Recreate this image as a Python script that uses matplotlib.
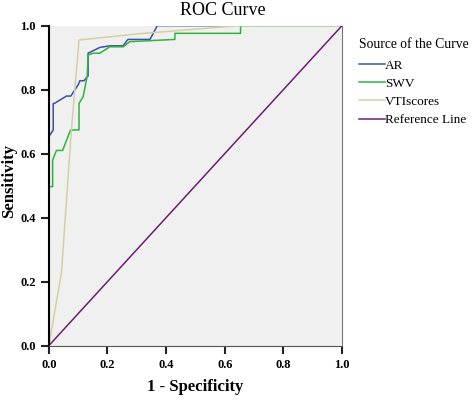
import matplotlib
matplotlib.use("Agg")
import matplotlib.pyplot as plt

plt.rcParams['font.family'] = ['Liberation Serif', 'DejaVu Serif']

# ROC points (1 - specificity, sensitivity)
ar_x = [0.0, 0.0, 0.015, 0.015, 0.019, 0.06, 0.075, 0.10, 0.106, 0.12, 0.134, 0.134,
        0.174, 0.208, 0.253, 0.27, 0.345, 0.37, 0.61]
ar_y = [0.0, 0.653, 0.674, 0.757, 0.757, 0.78, 0.78, 0.815, 0.828, 0.828, 0.843, 0.914,
        0.932, 0.937, 0.937, 0.957, 0.957, 1.0, 1.0]

swv_x = [0.0, 0.0, 0.013, 0.013, 0.026, 0.047, 0.074, 0.103, 0.103, 0.117, 0.131, 0.134,
         0.151, 0.174, 0.208, 0.254, 0.276, 0.43, 0.43, 0.654, 0.654, 1.0]
swv_y = [0.0, 0.497, 0.497, 0.58, 0.61, 0.61, 0.674, 0.674, 0.757, 0.778, 0.843, 0.908,
         0.914, 0.914, 0.934, 0.934, 0.95, 0.957, 0.976, 0.976, 1.0, 1.0]

vti_x = [0.0, 0.043, 0.077, 0.103, 0.31, 0.65, 1.0]
vti_y = [0.0, 0.227, 0.674, 0.955, 0.975, 1.0, 1.0]

ref_x = [0.0, 1.0]
ref_y = [0.0, 1.0]

fig = plt.figure(figsize=(4.74, 4.01), dpi=100)
ax = fig.add_axes([0.103, 0.138, 0.6185, 0.798])
ax.set_facecolor('#f0f0f0')

l1, = ax.plot(ar_x, ar_y, color='#3d50a8', lw=1.1, label='AR')
l2, = ax.plot(swv_x, swv_y, color='#2cb53c', lw=1.1, label='SWV')
l3, = ax.plot(vti_x, vti_y, color='#d6cfa2', lw=1.1, label='VTIscores')
l4, = ax.plot(ref_x, ref_y, color='#6b1e72', lw=1.1, label='Reference Line')

ax.set_xlim(0, 1)
ax.set_ylim(0, 1)
ticks = [0.0, 0.2, 0.4, 0.6, 0.8, 1.0]
ax.set_xticks(ticks)
ax.set_yticks(ticks)
ax.set_xticklabels(['%.1f' % t for t in ticks], fontweight='bold', fontsize=9)
ax.set_yticklabels(['%.1f' % t for t in ticks], fontweight='bold', fontsize=9)
ax.tick_params(direction='out', length=6, width=1.5, color='#222222')

ax.spines['top'].set_visible(False)
ax.spines['right'].set_color('#777777')
ax.spines['left'].set_linewidth(1.5)
ax.spines['bottom'].set_color('#555555')

fig.text(0.47, 1 - 15 / 401, 'ROC Curve', fontsize=13, ha='center', va='baseline')
ax.set_xlabel('1 - Specificity', fontsize=12, fontweight='bold', labelpad=6)
ax.set_ylabel('Sensitivity', fontsize=12, fontweight='bold')
ax.yaxis.set_label_coords(-0.11, 0.515)

leg = fig.legend(handles=[l1, l2, l3, l4], loc='upper left', bbox_to_anchor=(0.757, 0.905),
                 frameon=False, title='Source of the Curve', fontsize=9.5,
                 title_fontsize=9.8, handlelength=2.0, handletextpad=0.0,
                 labelspacing=0.45, alignment='left', borderaxespad=0, borderpad=0)
leg._legend_box.sep = 6

fig.savefig('out.png', dpi=100)
